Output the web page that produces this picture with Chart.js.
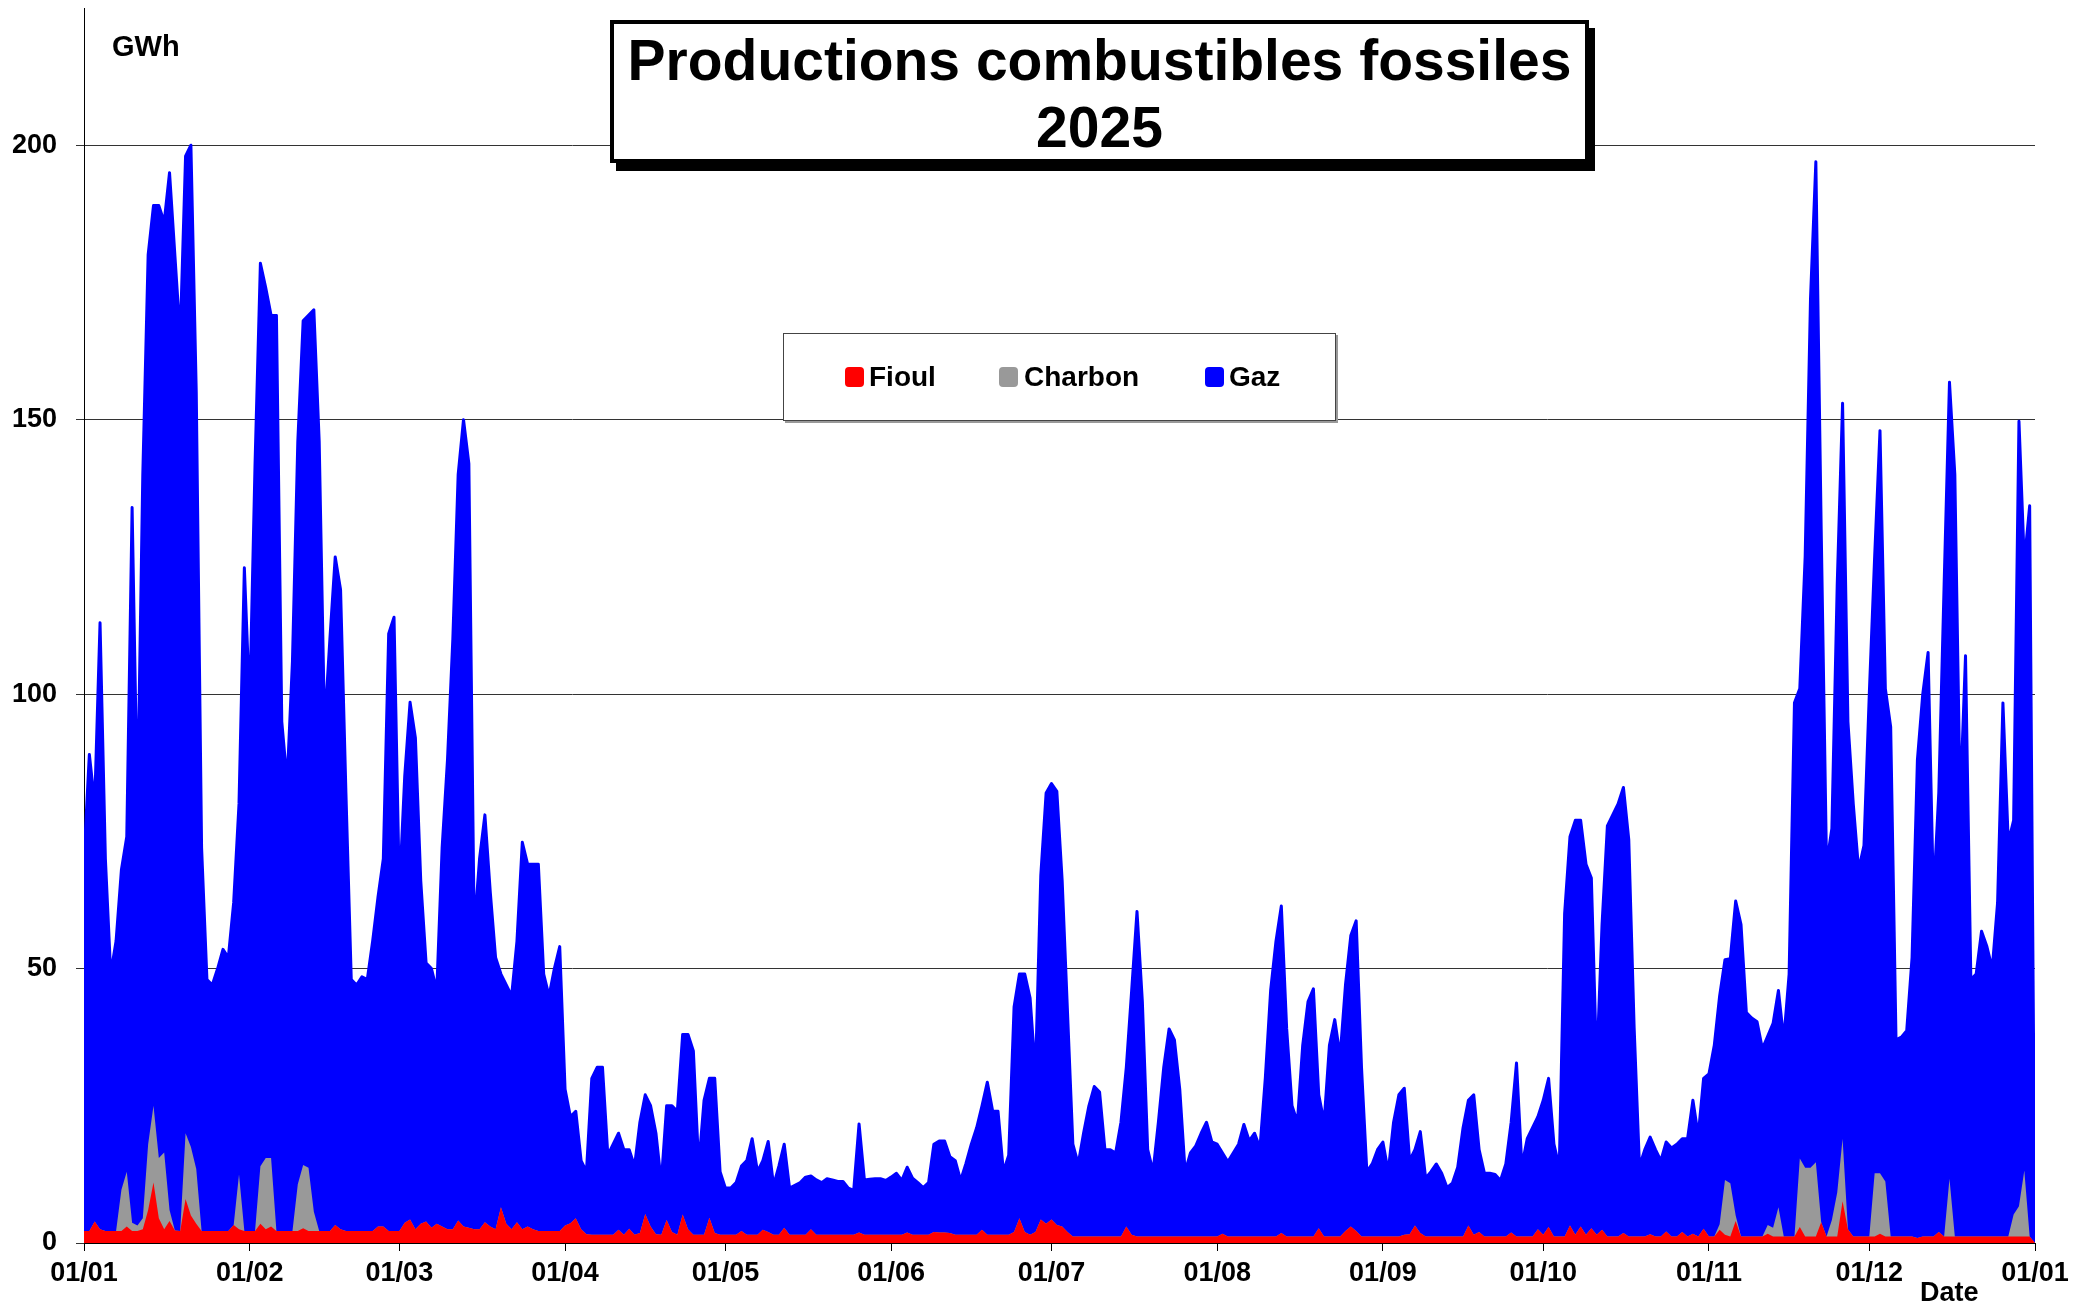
<!DOCTYPE html>
<html>
<head>
<meta charset="utf-8">
<script src="https://cdn.jsdelivr.net/npm/chart.js@4.4.1/dist/chart.umd.min.js"></script>
<style>
  body { margin: 0; background: #fff; font-family: "Liberation Sans", Arial, sans-serif; }
  #wrap { position: relative; width: 2098px; height: 1308px; }
  canvas { position: absolute; left: 0; top: 0; }
  .txt { position: absolute; font-weight: bold; color: #000; white-space: nowrap; }
  #title {
    position: absolute; left: 610px; top: 20px; width: 979px; height: 143px;
    box-sizing: border-box; border: 4px solid #000; box-shadow: 6px 8px 0 #000;
    background: #fff; text-align: center; font-weight: bold; font-size: 57px;
    line-height: 67px; padding-top: 3px;
  }
  #legend {
    position: absolute; left: 783px; top: 333px; width: 553px; height: 88px;
    box-sizing: border-box; border: 1px solid #444; box-shadow: 2px 2px 0 #999; background: #fff;
  }
  .sw { position: absolute; width: 19px; height: 20px; border-radius: 4px; top: 367px; }
</style>
</head>
<body>
<div id="wrap">
  <canvas id="myChart" width="2098" height="1308"></canvas>
  <div id="title">Productions combustibles fossiles<br>2025</div>
  <div id="legend"></div>
  <div class="sw" style="left:845px;background:#ff0000"></div>
  <div class="txt" style="left:869px;top:363px;font-size:28px;line-height:28px">Fioul</div>
  <div class="sw" style="left:999px;background:#999999"></div>
  <div class="txt" style="left:1024px;top:363px;font-size:28px;line-height:28px">Charbon</div>
  <div class="sw" style="left:1205px;background:#0000ff"></div>
  <div class="txt" style="left:1229px;top:363px;font-size:28px;line-height:28px">Gaz</div>
  <div class="txt" style="left:112px;top:32px;font-size:29px;line-height:29px">GWh</div>
  <div class="txt" style="left:1920px;top:1279px;font-size:27px;line-height:27px">Date</div>
</div>
<script>
// setup - one value per day of 2025 (index 0 = 01/01), last point closes the area at 01/01/2026

const monthStarts = [0, 31, 59, 90, 120, 151, 181, 212, 243, 273, 304, 334, 365];
const tickLabels = ['01/01', '01/02', '01/03', '01/04', '01/05', '01/06', '01/07',
  '01/08', '01/09', '01/10', '01/11', '01/12', '01/01'];
const yTicks = [0, 50, 100, 150, 200];

const fioul = [
  2.2, 2.2, 3.9, 2.5, 2.2, 2.2, 2.2, 2.2, 3, 2.2,
  2.2, 2.5, 6, 11, 4.5, 2.5, 4, 2.3, 2.2, 8,
  5, 3.5, 2.2, 2.2, 2.2, 2.2, 2.2, 2.2, 3.3, 2.5,
  2.2, 2.2, 2.2, 3.5, 2.5, 3, 2.2, 2.2, 2.2, 2.2,
  2.2, 2.7, 2.2, 2.2, 2.2, 2.2, 2.2, 3.3, 2.5, 2.2,
  2.2, 2.2, 2.2, 2.2, 2.2, 3, 3, 2.2, 2.2, 2.2,
  3.7, 4.3, 2.5, 3.5, 3.9, 2.8, 3.5, 3, 2.5, 2.5,
  4.1, 3, 2.8, 2.5, 2.5, 3.8, 3, 2.5, 6.5, 3.5,
  2.5, 3.8, 2.5, 3, 2.5, 2.2, 2.2, 2.2, 2.2, 2.2,
  3.2, 3.6, 4.5, 2.5, 1.6, 1.5, 1.5, 1.5, 1.5, 1.5,
  2.4, 1.5, 2.6, 1.5, 1.8, 5.3, 3, 1.6, 1.5, 4.2,
  2, 1.5, 5.2, 2.5, 1.5, 1.5, 1.5, 4.6, 1.8, 1.5,
  1.5, 1.5, 1.5, 2.2, 1.5, 1.5, 1.5, 2.4, 2, 1.5,
  1.5, 2.8, 1.5, 1.5, 1.5, 1.5, 2.5, 1.5, 1.5, 1.5,
  1.5, 1.5, 1.5, 1.5, 1.5, 1.9, 1.5, 1.5, 1.5, 1.5,
  1.5, 1.5, 1.5, 1.5, 1.9, 1.5, 1.5, 1.5, 1.5, 2,
  1.9, 1.9, 1.8, 1.5, 1.5, 1.5, 1.5, 1.5, 2.4, 1.5,
  1.5, 1.5, 1.5, 1.5, 2, 4.5, 2, 1.5, 2, 4.3,
  3.5, 4.3, 3.3, 3, 2, 1.2, 1.2, 1.2, 1.2, 1.2,
  1.2, 1.2, 1.2, 1.2, 1.2, 3, 1.5, 1.2, 1.2, 1.2,
  1.2, 1.2, 1.2, 1.2, 1.2, 1.2, 1.2, 1.2, 1.2, 1.2,
  1.2, 1.2, 1.2, 1.7, 1.2, 1.2, 1.2, 1.2, 1.2, 1.2,
  1.2, 1.2, 1.2, 1.2, 1.8, 1.2, 1.2, 1.2, 1.2, 1.2,
  1.2, 2.7, 1.2, 1.2, 1.2, 1.2, 2.2, 3, 2.2, 1.2,
  1.2, 1.2, 1.2, 1.2, 1.2, 1.2, 1.2, 1.5, 1.6, 3.2,
  1.8, 1.2, 1.2, 1.2, 1.2, 1.2, 1.2, 1.2, 1.2, 3.2,
  1.5, 2, 1.2, 1.2, 1.2, 1.2, 1.2, 1.9, 1.2, 1.2,
  1.2, 1.2, 2.5, 1.5, 2.9, 1.2, 1.2, 1.2, 3.2, 1.5,
  3, 1.5, 2.7, 1.5, 2.4, 1.2, 1.2, 1.2, 1.8, 1.2,
  1.2, 1.2, 1.2, 1.6, 1.2, 1.2, 2.1, 1.2, 1.2, 2,
  1.2, 1.7, 1.2, 2.6, 1.2, 1.2, 2.4, 1.5, 1.2, 4,
  1.2, 1.2, 1.2, 1.2, 1.2, 1.7, 1.2, 1.2, 1.2, 1.2,
  1.2, 2.9, 1.2, 1.2, 1.2, 3.8, 1.2, 1.2, 1.2, 7.6,
  2.5, 1.2, 1.2, 1.2, 1.2, 1.2, 1.7, 1.2, 1.2, 1.2,
  1.2, 1.2, 1.2, 0.9, 1.2, 1.2, 1.2, 2, 1.2, 1.2,
  1.2, 1.2, 1.2, 1.2, 1.2, 1.2, 1.2, 1.2, 1.2, 1.2,
  1.2, 1.2, 1.2, 1.2, 1.2, 0
];

const charbon = [
  0, 0, 0, 0, 0, 0, 0, 7.5, 10, 1.5,
  1, 2, 12, 14, 11, 14, 2, 0, 0, 12,
  12.5, 10, 0, 0, 0, 0, 0, 0, 0, 10,
  0, 0, 0, 10.5, 13, 12.5, 0, 0, 0, 0,
  8.5, 11.5, 11.5, 3.5, 0, 0, 0, 0, 0, 0,
  0, 0, 0, 0, 0, 0, 0, 0, 0, 0,
  0, 0, 0, 0, 0, 0, 0, 0, 0, 0,
  0, 0, 0, 0, 0, 0, 0, 0, 0, 0,
  0, 0, 0, 0, 0, 0, 0, 0, 0, 0,
  0, 0, 0, 0, 0, 0, 0, 0, 0, 0,
  0, 0, 0, 0, 0, 0, 0, 0, 0, 0,
  0, 0, 0, 0, 0, 0, 0, 0, 0, 0,
  0, 0, 0, 0, 0, 0, 0, 0, 0, 0,
  0, 0, 0, 0, 0, 0, 0, 0, 0, 0,
  0, 0, 0, 0, 0, 0, 0, 0, 0, 0,
  0, 0, 0, 0, 0, 0, 0, 0, 0, 0,
  0, 0, 0, 0, 0, 0, 0, 0, 0, 0,
  0, 0, 0, 0, 0, 0, 0, 0, 0, 0,
  0, 0, 0, 0, 0, 0, 0, 0, 0, 0,
  0, 0, 0, 0, 0, 0, 0, 0, 0, 0,
  0, 0, 0, 0, 0, 0, 0, 0, 0, 0,
  0, 0, 0, 0, 0, 0, 0, 0, 0, 0,
  0, 0, 0, 0, 0, 0, 0, 0, 0, 0,
  0, 0, 0, 0, 0, 0, 0, 0, 0, 0,
  0, 0, 0, 0, 0, 0, 0, 0, 0, 0,
  0, 0, 0, 0, 0, 0, 0, 0, 0, 0,
  0, 0, 0, 0, 0, 0, 0, 0, 0, 0,
  0, 0, 0, 0, 0, 0, 0, 0, 0, 0,
  0, 0, 0, 0, 0, 0, 0, 0, 0, 0,
  0, 0, 0, 0, 0, 0, 0, 0, 0, 0,
  0, 0, 0, 0, 0, 0, 1, 10, 9.7, 1,
  0, 0, 0, 0, 0, 1.6, 1.6, 5.3, 0, 0,
  0, 12.5, 12.5, 12.5, 13.5, 0, 0, 3, 8, 11.4,
  0, 0, 0, 0, 0, 11.5, 11, 10, 0, 0,
  0, 0, 0, 0, 0, 0, 0, 0, 0, 10.5,
  0, 0, 0, 0, 0, 0, 0, 0, 0, 0,
  0, 4, 5.5, 12, 0, 0
];

const gaz = [
  67.8, 86.8, 76.1, 110.5, 67.8, 46.8, 52.8, 58.3, 61, 130.3,
  75.8, 135.5, 162, 164, 173.5, 169.5, 189, 177.7, 162.8, 178,
  182.5, 141.5, 69.8, 45.8, 44.8, 47.8, 51.3, 49.8, 58.7, 67.5,
  120.8, 95.8, 139.8, 164.5, 158.5, 153.5, 166.8, 92.8, 81.8, 103.8,
  135.3, 153.8, 155.3, 164.3, 143.8, 91.8, 107.8, 121.7, 116.5, 79.8,
  45.8, 44.8, 46.3, 45.8, 52.8, 60, 67, 108.8, 111.8, 61.8,
  81.3, 94.2, 89.5, 62.5, 47.1, 47.2, 42.5, 69, 85.5, 107.5,
  135.9, 147, 139.2, 54.5, 67.5, 74.2, 61, 49.5, 42.5, 43.5,
  42.5, 51.2, 70.5, 66, 66.5, 66.8, 46.8, 42.8, 47.8, 51.8,
  24.8, 19.4, 19.5, 12.5, 11.4, 28.5, 30.5, 30.5, 14.5, 16.5,
  17.6, 15.5, 14.4, 12.5, 20.2, 21.7, 22, 18.4, 9.5, 20.8,
  23, 22.5, 32.8, 35.5, 33.5, 12.5, 24.5, 25.4, 28.2, 11.5,
  8.5, 8.5, 9.5, 11.8, 13.5, 17.5, 11.5, 12.6, 16.5, 9,
  12.5, 15.2, 8.5, 9, 9.5, 10.5, 9.7, 10, 9.5, 10.2,
  10, 9.7, 9.7, 8.5, 8.1, 19.8, 10, 10.1, 10.2, 10.2,
  9.9, 10.5, 11.2, 9.9, 11.9, 10.3, 9.5, 8.6, 9.5, 16,
  16.7, 16.7, 13.9, 13.5, 9.9, 13, 16.5, 19.5, 22.6, 27.8,
  22.5, 22.5, 11.5, 14.5, 41, 44.5, 47, 43.1, 28.8, 62.7,
  78.5, 79.4, 79, 63, 40, 16.8, 13.2, 18.8, 23.8, 27.3,
  26.3, 15.8, 15.8, 15.2, 20.8, 29, 44.5, 59.2, 42.8, 15.8,
  11.8, 20.8, 30.8, 37.8, 35.8, 26.8, 11.8, 15.2, 16.5, 18.8,
  20.8, 17.2, 16.8, 14.7, 13.6, 15.2, 16.8, 20.4, 17.4, 18.8,
  16.1, 28.8, 44.8, 53.8, 59.6, 37.8, 23.8, 20.8, 34.8, 42.8,
  45.1, 24.3, 20.8, 34.8, 39.5, 32.8, 44.8, 53, 56.5, 30.8,
  11.8, 13.2, 15.8, 17.2, 11.8, 20.8, 25.8, 26.7, 13.4, 13.8,
  18.5, 10.6, 11.8, 13.2, 11.5, 8.9, 9.7, 12.6, 19.8, 22.8,
  25.5, 15, 11.5, 11.5, 11.3, 10.2, 13.2, 20.1, 31.6, 12.8,
  17.8, 19.8, 20.5, 24.5, 27.1, 16.8, 12.6, 58.8, 70.8, 75.5,
  74, 67.5, 63.8, 30.5, 55.6, 74.8, 76.8, 78.8, 81.2, 72.3,
  38.2, 12.8, 15.8, 17.7, 15.8, 13.8, 16.3, 16.1, 16.8, 17,
  17.8, 24.3, 18.4, 27.4, 29.6, 34.8, 41.6, 40.1, 40.9, 57.3,
  56.8, 40.8, 39.8, 39.1, 34.2, 34.4, 37.2, 39.5, 35.8, 47.8,
  97.2, 85.6, 111.3, 158.3, 182.3, 126.2, 67.8, 71.3, 110.8, 134,
  92.5, 78.8, 66.8, 71.2, 98.8, 112.3, 135.3, 89.8, 92.8, 35.8,
  36.3, 37.5, 50.8, 87.1, 98.8, 106.4, 61.8, 80, 118.8, 145.1,
  138.8, 78.8, 105.8, 46.8, 47.8, 55.6, 52.8, 48.8, 60.8, 97.2,
  71.8, 71.8, 143, 110.8, 133.1, 0
];

const toPoints = arr => arr.map((v, i) => ({ x: i, y: v }));
const FONT = "'Liberation Sans', Arial, sans-serif";

// config
const data = {
  datasets: [{
    label: 'Fioul',
    data: toPoints(fioul),
    backgroundColor: '#ff0000',
    borderWidth: 0,
    fill: 'origin'
  }, {
    label: 'Charbon',
    data: toPoints(charbon),
    backgroundColor: '#999999',
    borderWidth: 0,
    fill: 'origin'
  }, {
    label: 'Gaz',
    data: toPoints(gaz),
    backgroundColor: '#0000ff',
    borderColor: '#0000ff',
    borderWidth: 3,
    borderJoinStyle: 'round',
    borderCapStyle: 'round',
    fill: 'origin'
  }]
};

const config = {
  type: 'line',
  data: data,
  options: {
    responsive: false,
    animation: false,
    devicePixelRatio: 1,
    layout: { padding: { top: 8, right: 63, left: 0, bottom: 0 } },
    elements: { point: { radius: 0 }, line: { tension: 0 } },
    plugins: {
      legend: { display: false },
      title: { display: false },
      tooltip: { enabled: false }
    },
    scales: {
      x: {
        type: 'linear',
        min: 0,
        max: 365,
        afterBuildTicks(scale) {
          scale.ticks = monthStarts.map(v => ({ value: v }));
        },
        afterFit(scale) { scale.height = 65; },
        ticks: {
          autoSkip: false,
          maxRotation: 0,
          padding: 6,
          color: '#000',
          font: { family: FONT, size: 27, weight: 'bold' },
          callback: v => tickLabels[monthStarts.indexOf(v)]
        },
        grid: { drawOnChartArea: false, tickLength: 8, color: '#000' },
        border: { display: true, color: '#000', width: 1 }
      },
      y: {
        stacked: true,
        min: 0,
        max: 225,
        afterBuildTicks(scale) {
          scale.ticks = yTicks.map(v => ({ value: v }));
        },
        afterFit(scale) {
          scale.width = 84;
          scale.paddingTop = 0;
          scale.paddingBottom = 0;
        },
        ticks: {
          padding: 19,
          color: '#000',
          font: { family: FONT, size: 27, weight: 'bold' }
        },
        grid: { color: '#333', lineWidth: 1, tickLength: 8 },
        border: { display: true, color: '#000', width: 1 }
      }
    }
  }
};

// render init block
const myChart = new Chart(document.getElementById('myChart'), config);
</script>
</body>
</html>
